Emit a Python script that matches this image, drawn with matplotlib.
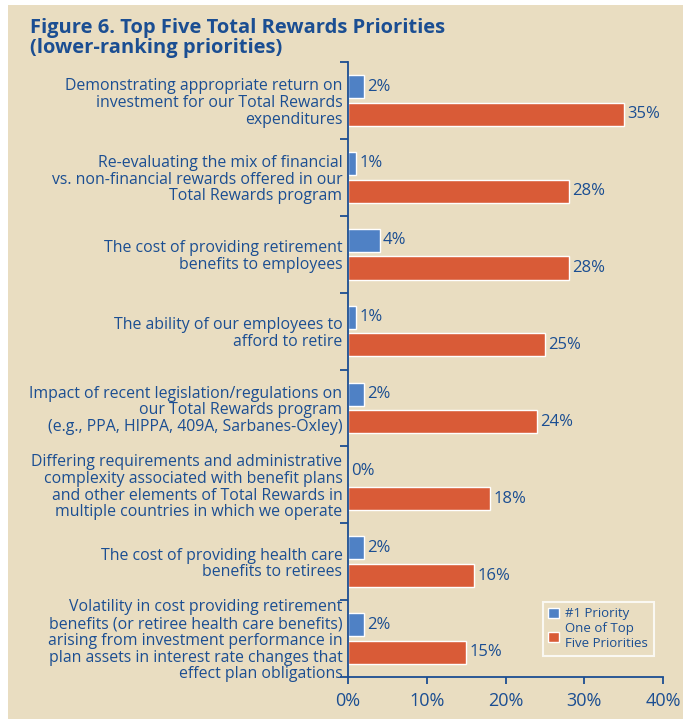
import matplotlib
matplotlib.use("Agg")
import matplotlib.pyplot as plt
from matplotlib.patches import Rectangle, Patch
from matplotlib.ticker import FixedLocator, FuncFormatter
import numpy as np

# Priority statements, top to bottom
categories = [
    "Demonstrating appropriate return on\ninvestment for our Total Rewards\nexpenditures",
    "Re-evaluating the mix of financial\nvs. non-financial rewards offered in our\nTotal Rewards program",
    "The cost of providing retirement\nbenefits to employees",
    "The ability of our employees to\nafford to retire",
    "Impact of recent legislation/regulations on\nour Total Rewards program\n(e.g., PPA, HIPPA, 409A, Sarbanes-Oxley)",
    "Differing requirements and administrative\ncomplexity associated with benefit plans\nand other elements of Total Rewards in\nmultiple countries in which we operate",
    "The cost of providing health care\nbenefits to retirees",
    "Volatility in cost providing retirement\nbenefits (or retiree health care benefits)\narising from investment performance in\nplan assets in interest rate changes that\neffect plan obligations",
]
top_priority = [2, 1, 4, 1, 2, 0, 2, 2]
top_five = [35, 28, 28, 25, 24, 18, 16, 15]
series_names = ["#1 Priority", "One of Top\nFive Priorities"]
x_ticks = [0, 10, 20, 30, 40]
title_lines = ["Figure 6. Top Five Total Rewards Priorities", "(lower-ranking priorities)"]

BG = "#E9DDC1"
TXT = "#1B4E92"
BLUE = "#4F81C5"
ORANGE = "#D95B37"

plt.rcParams["font.family"] = ["Open Sans", "DejaVu Sans"]

W, H = 683, 719
fig = plt.figure(figsize=(W / 100, H / 100), dpi=100)
fig.patch.set_facecolor("white")
fig.patches.append(Rectangle((8 / W, 0), 1 - 8 / W, 1 - 5 / H,
                             transform=fig.transFigure, facecolor=BG,
                             edgecolor="none", zorder=-10))

# two-line title, each line placed on its own baseline
for line, base in zip(title_lines, (33, 53)):
    fig.text(30 / W, 1 - base / H, line, color=TXT, fontsize=14.5,
             fontweight="bold", ha="left", va="baseline")

ax = fig.add_axes([348 / W, 1 - 677 / H, (663 - 348) / W, (677 - 62) / H])
ax.set_facecolor("none")

y = np.arange(len(categories))
h = 0.30
off = 0.18
b1 = ax.barh(y - off, top_priority, height=h, color=BLUE, edgecolor="white", linewidth=1.0)
b2 = ax.barh(y + off, top_five, height=h, color=ORANGE, edgecolor="white", linewidth=1.0)

for bars, vals in ((b1, top_priority), (b2, top_five)):
    for rect, v in zip(bars, vals):
        ax.annotate(f"{v}%", (v, rect.get_y() + rect.get_height() / 2),
                    xytext=(2.5, 0), textcoords="offset points",
                    ha="left", va="center", color=TXT, fontsize=12)

ax.set_xlim(0, 40)
ax.set_ylim(len(categories) - 0.5, -0.5)
ax.set_xticks(x_ticks)
ax.xaxis.set_major_formatter(FuncFormatter(lambda v, p: f"{v:.0f}%"))
ax.set_yticks(y)
ax.set_yticklabels(categories, fontsize=11.45, color=TXT, linespacing=1.06)
ax.yaxis.set_minor_locator(FixedLocator(np.arange(-0.5, len(categories), 1.0)))
ax.tick_params(axis="y", which="major", length=0, pad=4)
ax.tick_params(axis="y", which="minor", length=6, width=1.3, color=TXT, direction="out")
ax.tick_params(axis="x", length=5, width=1.3, color=TXT, labelsize=13, labelcolor=TXT, pad=6)

for s in ("top", "right"):
    ax.spines[s].set_visible(False)
for s in ("left", "bottom"):
    ax.spines[s].set_color(TXT)
    ax.spines[s].set_linewidth(1.3)

handles = [Patch(facecolor=BLUE, edgecolor="white"), Patch(facecolor=ORANGE, edgecolor="white")]
leg = ax.legend(handles, series_names, loc="upper left",
                bbox_to_anchor=((543 - 348) / (663 - 348), (677 - 602) / (677 - 62)),
                frameon=True, fancybox=False, fontsize=9.5, labelcolor=TXT,
                handlelength=0.8, handleheight=0.8, handletextpad=0.5,
                borderpad=0.4, labelspacing=0.15, borderaxespad=0)
leg.get_frame().set_facecolor(BG)
leg.get_frame().set_edgecolor("white")
leg.get_frame().set_linewidth(1.5)

fig.savefig("out.png", dpi=100, facecolor=fig.get_facecolor())
